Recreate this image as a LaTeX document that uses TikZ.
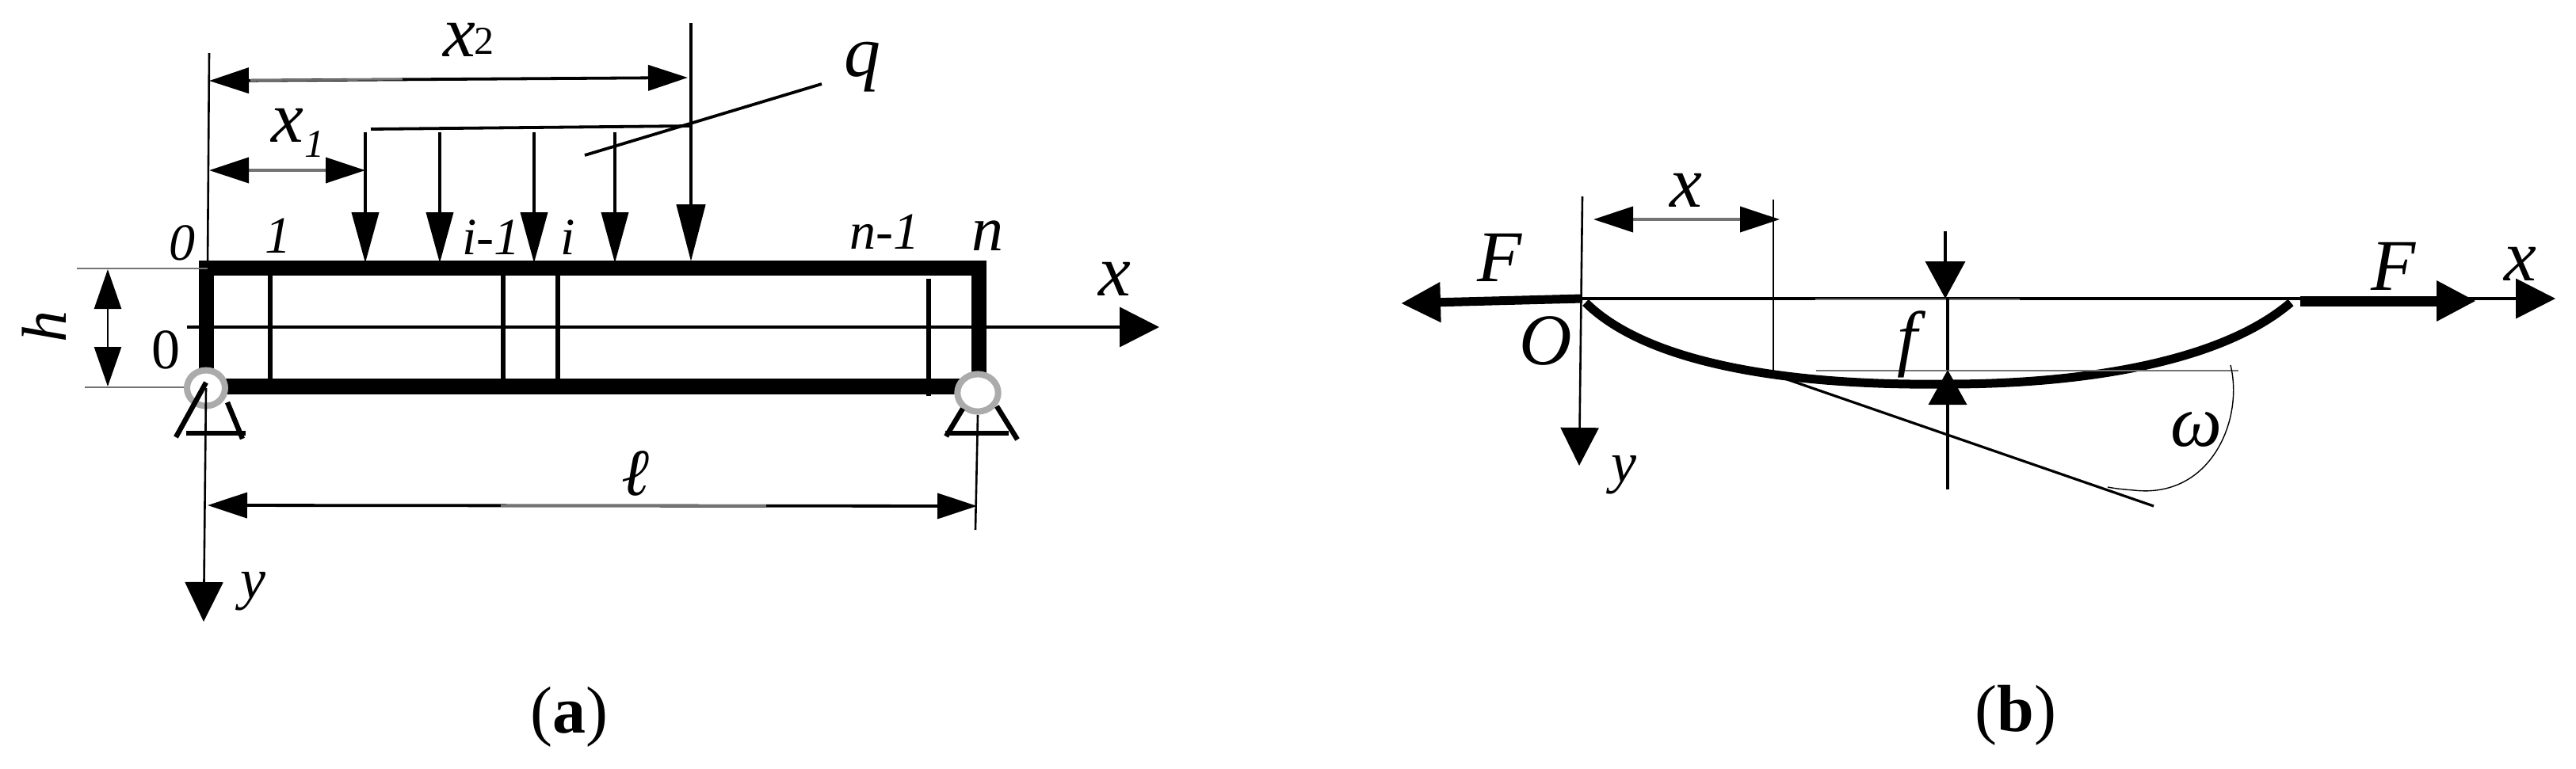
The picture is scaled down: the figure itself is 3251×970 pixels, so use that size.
\documentclass[tikz,border=0pt]{standalone}
\usepackage{fontspec}
\setmainfont{Liberation Serif}
\usetikzlibrary{arrows.meta,shapes.geometric}
\newcommand{\fs}[1]{\fontsize{#1}{#1}\selectfont}
\tikzset{
  x=.5pt,y=-.5pt,
  lbl/.style={inner sep=0pt,text=black,font=\fs{33}\itshape},
  big/.style={lbl,font=\fs{46}\itshape},
  captxt/.style={inner sep=0pt,font=\fs{42}},
  fine/.style={line width=1.3pt,black},
  mid/.style={line width=1.9pt,black},
  greyline/.style={line width=1.3pt,black!55},
  wall/.style={line width=9.5pt,black},
  bar/.style={line width=3pt,black},
  leg/.style={line width=3.2pt,black},
  ring/.style={draw=black!33,line width=4pt,fill=white,ellipse,inner sep=0pt},
  hdd/.style={{Triangle[length=25pt,width=16pt,color=black]}-{Triangle[length=25pt,width=16pt,color=black]}},
  load/.style={mid,-{Triangle[length=32pt,width=17pt]}},
  axis/.style={-{Triangle[length=25pt,width=25pt]}},
}
\begin{document}
\begin{tikzpicture}
\useasboundingbox[fill=white] (0,0) rectangle (3251,970);
%%% ---- panel (a)
\coordinate (A0t) at (264,67);   \coordinate (A0b) at (262,338);
\draw[fine] (A0t) -- (A0b);
% dimensions x2, x1
\coordinate (X2a) at (264,102);  \coordinate (X2b) at (868,98);
\draw[mid,hdd] (X2a) -- (X2b);
\coordinate (X2g) at (508,100);  \coordinate (X2h) at (316,101.5);
\draw[greyline] (X2g) -- (X2h);
\coordinate (X1a) at (264,215);  \coordinate (X1b) at (461,215);
\draw[greyline,line width=2pt,hdd] (X1a) -- (X1b);
% load
\coordinate (Lq1) at (468,163);  \coordinate (Lq2) at (872,159);
\draw[mid] (Lq1) -- (Lq2);
\coordinate (L1t) at (461,167); \coordinate (L1b) at (461,332);
\coordinate (L2t) at (555,167); \coordinate (L2b) at (555,332);
\coordinate (L3t) at (674,167); \coordinate (L3b) at (674,332);
\coordinate (L4t) at (776,167); \coordinate (L4b) at (776,332);
\coordinate (L5t) at (872,29);  \coordinate (L5b) at (872,330);
\draw[load] (L1t) -- (L1b);
\draw[load] (L2t) -- (L2b);
\draw[load] (L3t) -- (L3b);
\draw[load] (L4t) -- (L4b);
\draw[mid,line width=2.4pt,-{Triangle[length=36pt,width=18pt]}] (L5t) -- (L5b);
\coordinate (Qa) at (738,196);  \coordinate (Qb) at (1037,106);
\draw[mid] (Qa) -- (Qb);
% axis x and section lines
\coordinate (Axl) at (236,413);  \coordinate (Axr) at (1463,413);
\draw[mid,axis] (Axl) -- (Axr);
\coordinate (S1t) at (341,346); \coordinate (S1b) at (341,480);
\coordinate (S2t) at (635,346); \coordinate (S2b) at (635,480);
\coordinate (S3t) at (704,346); \coordinate (S3b) at (704,480);
\coordinate (S4t) at (1172,352); \coordinate (S4b) at (1172,500);
\draw[bar] (S1t) -- (S1b);
\draw[bar] (S2t) -- (S2b);
\draw[bar] (S3t) -- (S3b);
\draw[bar] (S4t) -- (S4b);
% beam
\coordinate (BTl) at (251,338); \coordinate (BTr) at (1245,338);
\coordinate (WLt) at (260,329); \coordinate (WLb) at (260,480);
\coordinate (WRt) at (1235,329); \coordinate (WRb) at (1235,480);
\coordinate (BBl) at (280,488); \coordinate (BBr) at (1225,488);
\draw[wall] (WLt) -- (WLb);
\draw[wall] (WRt) -- (WRb);
\draw[wall] (BTl) -- (BTr);
\draw[line width=10pt] (BBl) -- (BBr);
% h dimension
\coordinate (Ha) at (97,339);  \coordinate (Hb) at (262,339);
\coordinate (Hc) at (107,489); \coordinate (Hd) at (232,489);
\draw[greyline,line width=1.2pt] (Ha) -- (Hb);
\draw[greyline,line width=1.2pt] (Hc) -- (Hd);
\coordinate (Hu) at (136,340); \coordinate (Hl) at (136,488);
\draw[fine,{Triangle[length=25pt,width=17pt]}-{Triangle[length=25pt,width=17pt]}] (Hu) -- (Hl);
% dimension l
\coordinate (Ela) at (262,638); \coordinate (Elb) at (1233,639);
\draw[mid,hdd] (Ela) -- (Elb);
\coordinate (Elg) at (632,638.5); \coordinate (Elh) at (967,638.5);
\draw[greyline] (Elg) -- (Elh);
% supports
\node[ring,minimum width=24pt,minimum height=22.5pt] (HL) at (260,490) {};
\node[ring,minimum width=25.7pt,minimum height=23.6pt] (HR) at (1234,496) {};
\coordinate (SLa) at (260,483); \coordinate (SLb) at (222,552);
\coordinate (SLc) at (287,508); \coordinate (SLd) at (306,554);
\coordinate (SLe) at (235,547); \coordinate (SLf) at (310,547);
\draw[leg] (SLa) -- (SLb);
\draw[leg] (SLc) -- (SLd);
\draw[leg] (SLe) -- (SLf);
\coordinate (SRa) at (1215,516); \coordinate (SRb) at (1194,551);
\coordinate (SRc) at (1258,513); \coordinate (SRd) at (1284,555);
\coordinate (SRe) at (1193,547); \coordinate (SRf) at (1273,547);
\draw[leg] (SRa) -- (SRb);
\draw[leg] (SRc) -- (SRd);
\draw[leg] (SRe) -- (SRf);
% y axis, right extension
\coordinate (Ya) at (260,490); \coordinate (Yb) at (257,785);
\draw[fine,-{Triangle[length=25pt,width=24pt]}] (Ya) -- (Yb);
\coordinate (Ea) at (1234,524); \coordinate (Eb) at (1231,669);
\draw[fine] (Ea) -- (Eb);
% labels (a)
\node[big]  (tx2) at (580,50) {x};
\node[lbl,font=\fs{25}] (tx22) at (611,52) {2};
\node[big]  (tx1) at (363,158) {x};
\node[lbl,font=\fs{25}\itshape] (tx11) at (397,182) {1};
\node[big]  (tq) at (1088,85) {q};
\node[lbl]  (t0i) at (230,307) {0};
\node[lbl]  (t1) at (351,298) {1};
\node[lbl]  (tim) at (620,300) {i-1};
\node[lbl]  (ti) at (717,300) {i};
\node[lbl]  (tnm) at (1116,293) {n-1};
\node[lbl,font=\fs{40}\itshape] (tn) at (1246,298) {n};
\node[big]  (tax) at (1407,352) {x};
\node[lbl,font=\fs{40}\itshape,rotate=90] (th) at (56,412) {h};
\node[lbl,font=\fs{36}] (t0u) at (209,442) {0};
\node[lbl,font=\fs{36}\itshape] (ty) at (319,747) {y};
\node[lbl,font=\fs{42}\itshape] (tl) at (802,598) {ℓ};
\node[captxt] (ca) at (718,905) {(\textbf{a})};
%%% ---- panel (b)
\coordinate (Ot) at (1997,248); \coordinate (Ob) at (1993,588);
\draw[fine,-{Triangle[length=24pt,width=24pt]}] (Ot) -- (Ob);
\coordinate (Xbl) at (1997,377); \coordinate (Xbr) at (3225,377);
\draw[mid,axis] (Xbl) -- (Xbr);
\coordinate (Xg1) at (2291,378); \coordinate (Xg2) at (2549,378);
\draw[greyline] (Xg1) -- (Xg2);
\coordinate (Fl1) at (1997,377); \coordinate (Fl2) at (1768,383);
\draw[line width=5.5pt,-{Triangle[length=25pt,width=24pt]}] (Fl1) -- (Fl2);
\coordinate (Fr1) at (2903,380); \coordinate (Fr2) at (3125,380);
\draw[line width=6.5pt,-{Triangle[length=25pt,width=24pt]}] (Fr1) -- (Fr2);
\draw[line width=5.5pt] (2001,382) .. controls (2090,470) and (2300,487) .. (2458,485)
   .. controls (2620,485) and (2800,460) .. (2891,382);
% x dimension and tangent
\coordinate (Dxa) at (2011,277); \coordinate (Dxb) at (2246,277);
\draw[greyline,line width=2pt,hdd] (Dxa) -- (Dxb);
\coordinate (Vxa) at (2238,252); \coordinate (Vxb) at (2238,470);
\draw[fine] (Vxa) -- (Vxb);
\coordinate (Tga) at (2238,473); \coordinate (Tgb) at (2718,639);
\draw[mid,line width=1.6pt] (Tga) -- (Tgb);
\coordinate (Hfa) at (2292,468); \coordinate (Hfb) at (2825,468);
\draw[greyline,line width=1.2pt] (Hfa) -- (Hfb);
% f dimension
\coordinate (Fa) at (2455,292); \coordinate (Fb) at (2455,377);
\draw[mid,-{Triangle[length=23.5pt,width=25pt]}] (Fa) -- (Fb);
\coordinate (Fc) at (2458,618); \coordinate (Fd) at (2458,467);
\draw[mid,-{Triangle[length=22pt,width=24pt]}] (Fc) -- (Fd);
\coordinate (Fe) at (2458,377);
\draw[mid] (Fe) -- (Fd);
% omega arc
\draw[line width=.7pt] (2815,461) .. controls (2832,530) and (2790,630) .. (2693,619)
   .. controls (2680,618) and (2670,617) .. (2660,615);
% labels (b)
\node[big] (tFl) at (1893,325) {F};
\node[big] (tO) at (1951,430) {O};
\node[big] (txd) at (2128,240) {x};
\node[lbl,font=\fs{36}\itshape] (tyb) at (2049,600) {y};
\node[big] (tf) at (2407,435) {f};
\node[big] (tom) at (2772,542) {ω};
\node[big] (tFr) at (3021,336) {F};
\node[big] (txr) at (3181,333) {x};
\node[captxt] (cb) at (2544,903) {(\textbf{b})};
\end{tikzpicture}
\end{document}
